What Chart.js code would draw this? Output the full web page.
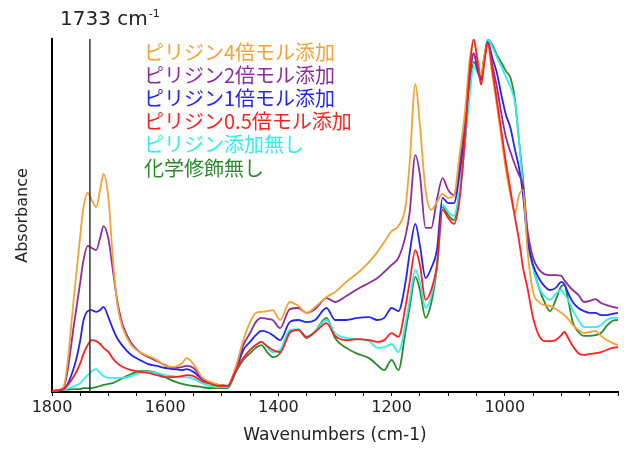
<!DOCTYPE html>
<html>
<head>
<meta charset="utf-8">
<script src="https://cdn.jsdelivr.net/npm/chart.js@4"></script>
<style>
    html, body { margin: 0; padding: 0; background: #fff; }
    #wrap { width: 624px; height: 450px; }
</style>
</head>
<body>
<div id="wrap"><canvas id="irChart" width="624" height="450"></canvas></div>
<script>
// ================= DATA =================
const wavenumbers = [
    1800, 1780, 1760, 1750, 1745, 1737, 1730, 1722, 1715, 1709,
    1700, 1693, 1685, 1675, 1660, 1645, 1630, 1615, 1600, 1585,
    1570, 1562, 1550, 1535, 1520, 1505, 1490, 1475, 1462, 1450,
    1440, 1430, 1420, 1410, 1397, 1380, 1365, 1350, 1335, 1315,
    1300, 1280, 1260, 1240, 1225, 1213, 1200, 1188, 1175, 1168,
    1158, 1150, 1140, 1130, 1120, 1110, 1100, 1090, 1080, 1070,
    1062, 1055, 1048, 1042, 1036, 1030, 1022, 1014, 1005, 998,
    990, 982, 975, 968, 960, 950, 940, 930, 920, 910,
    900, 895, 888, 880, 870, 860, 850, 840, 830, 820,
    810, 800
];

const pyridine4 = [
    0.3, 1.4, 28.9, 44.5, 51.6, 56.4, 54.4, 52.4, 57.2, 61.8,
    54.4, 38.8, 25.2, 18.1, 13.3, 11.3, 10.2, 9.1, 7.4, 7.1,
    8.2, 9.6, 7.9, 4.2, 2.8, 2.0, 1.7, 7.4, 14.7, 19.8,
    22.4, 22.7, 22.9, 23.2, 20.4, 25.5, 24.4, 22.4, 24.1, 26.9,
    28.3, 31.2, 33.7, 36.8, 39.7, 42.5, 45.6, 47.0, 53.0, 65.2,
    87.3, 75.6, 57.2, 51.6, 53.8, 56.1, 55.0, 55.5, 67.1, 79.9,
    94.1, 99.7, 94.1, 89.8, 95.5, 98.3, 89.8, 81.3, 70.8, 62.9,
    55.8, 50.7, 55.8, 57.2, 40.2, 28.3, 25.5, 24.6, 24.4, 23.5,
    22.4, 21.8, 20.7, 19.0, 17.6, 16.7, 17.0, 17.3, 15.9, 14.7,
    13.9, 13.3
];

const pyridine2 = [
    0.3, 1.1, 20.4, 31.2, 36.8, 41.4, 40.8, 40.2, 43.6, 47.0,
    43.1, 35.1, 26.1, 19.0, 13.9, 11.3, 9.9, 8.8, 7.6, 6.8,
    7.1, 7.4, 6.8, 4.0, 2.5, 2.0, 1.7, 6.8, 13.3, 16.7,
    19.8, 21.0, 20.7, 20.4, 18.1, 23.5, 23.8, 22.4, 23.5, 26.6,
    25.5, 27.2, 29.2, 30.9, 32.3, 34.0, 36.0, 38.0, 44.5, 51.0,
    67.1, 61.5, 46.5, 46.5, 54.4, 60.6, 57.2, 55.8, 64.3, 77.1,
    89.8, 95.8, 92.1, 89.2, 94.9, 98.6, 92.6, 86.4, 77.9, 72.2,
    68.0, 64.3, 61.5, 58.6, 45.9, 38.0, 34.8, 33.4, 33.1, 33.1,
    32.9, 31.7, 30.3, 28.9, 27.5, 25.5, 25.8, 26.3, 25.2, 24.6,
    24.1, 23.8
];

const pyridine1 = [
    0.3, 0.8, 7.6, 14.7, 19.8, 22.9, 23.2, 22.7, 23.2, 24.1,
    21.0, 18.1, 15.3, 13.0, 10.5, 9.1, 7.9, 7.4, 6.8, 6.5,
    6.2, 6.5, 5.7, 3.7, 2.5, 2.0, 1.7, 6.2, 11.9, 14.2,
    16.1, 17.3, 17.0, 16.1, 14.7, 19.8, 20.4, 19.8, 20.4, 23.8,
    20.4, 20.4, 21.0, 21.2, 20.4, 21.0, 23.8, 22.9, 31.5, 39.5,
    47.6, 41.6, 32.3, 35.1, 40.2, 55.0, 53.5, 53.5, 61.8, 75.6,
    89.8, 96.0, 91.2, 88.4, 94.9, 99.2, 94.6, 90.4, 83.3, 78.5,
    74.8, 68.6, 63.7, 56.1, 43.1, 36.0, 32.3, 30.0, 28.9, 29.5,
    31.2, 30.6, 28.0, 25.5, 23.8, 22.9, 22.4, 22.4, 21.8, 21.8,
    22.1, 22.4
];

const pyridine05 = [
    0.3, 0.8, 4.8, 8.2, 10.5, 13.3, 14.7, 14.4, 13.6, 12.5,
    11.3, 9.6, 8.2, 7.1, 6.2, 5.7, 5.4, 4.8, 4.2, 4.2,
    4.5, 4.8, 4.5, 3.1, 2.3, 1.7, 1.7, 6.2, 9.6, 11.9,
    13.3, 14.2, 13.0, 11.9, 11.3, 16.7, 17.6, 15.6, 17.0, 19.5,
    15.9, 14.7, 15.0, 14.7, 14.2, 14.7, 16.7, 15.6, 24.6, 31.2,
    40.2, 36.0, 26.1, 28.9, 35.7, 51.6, 49.3, 47.6, 54.4, 72.8,
    91.2, 100, 93.5, 87.0, 93.5, 98.9, 91.2, 82.7, 72.8, 64.9,
    57.2, 49.3, 43.1, 35.4, 29.5, 21.0, 16.1, 14.4, 14.4, 14.7,
    16.1, 17.0, 15.3, 13.0, 11.0, 10.5, 10.8, 11.0, 11.3, 11.9,
    12.5, 12.7
];

const pyridine0 = [
    0.3, 0.6, 1.7, 2.5, 3.4, 4.8, 5.9, 6.5, 5.4, 4.5,
    4.0, 4.0, 4.0, 4.0, 4.5, 5.4, 5.7, 5.4, 4.8, 4.5,
    4.2, 4.2, 3.7, 2.5, 1.7, 1.4, 1.4, 6.2, 9.6, 11.9,
    13.3, 14.2, 12.7, 11.3, 11.9, 17.6, 17.8, 15.6, 17.3, 20.4,
    16.7, 15.3, 15.0, 14.4, 12.5, 12.7, 13.6, 11.3, 19.8, 26.1,
    34.6, 31.2, 23.8, 27.2, 35.7, 53.0, 51.0, 49.9, 57.2, 71.4,
    84.1, 92.1, 90.4, 88.4, 94.6, 100, 97.7, 94.9, 91.8, 89.2,
    86.4, 81.9, 71.4, 58.6, 43.1, 35.1, 29.7, 27.2, 26.1, 27.8,
    28.9, 27.8, 26.1, 23.2, 20.4, 18.4, 18.4, 18.4, 19.0, 20.4,
    21.0, 21.0
];

const unmodified = [
    0.3, 0.6, 0.8, 0.8, 1.1, 1.1, 1.1, 1.4, 1.7, 2.0,
    2.3, 2.5, 3.1, 4.0, 5.1, 5.9, 5.9, 5.4, 4.2, 3.1,
    2.3, 2.0, 1.7, 1.4, 1.1, 1.1, 1.1, 5.7, 9.1, 11.0,
    12.5, 13.3, 11.3, 9.9, 11.0, 17.3, 17.6, 15.3, 17.3, 21.0,
    15.3, 12.5, 10.8, 9.6, 7.6, 6.2, 9.1, 6.2, 17.6, 24.1,
    32.6, 28.9, 21.0, 25.2, 35.1, 52.4, 50.1, 48.7, 55.8, 71.4,
    85.5, 93.5, 91.2, 89.0, 94.6, 100, 98.3, 95.5, 93.0, 90.9,
    89.0, 82.7, 71.4, 60.6, 44.5, 35.4, 29.7, 25.5, 22.9, 26.1,
    30.0, 30.3, 26.1, 19.8, 17.0, 15.9, 15.9, 16.1, 16.7, 18.7,
    20.1, 20.4
];

const seriesLabels = [
    "ピリジン4倍モル添加",
    "ピリジン2倍モル添加",
    "ピリジン1倍モル添加",
    "ピリジン0.5倍モル添加",
    "ピリジン添加無し",
    "化学修飾無し"
];
const seriesColors = ["#f4a234", "#8e2c9e", "#2424f0", "#ff1f1f", "#2ef0ee", "#2b8a2b"];
const seriesOrder = [1, 2, 3, 0, 4, 5];

const xTickLabels = [1800, 1600, 1400, 1200, 1000];
const markerWavenumber = 1733;
const markerLabel = "1733 cm";

// ================= HELPERS =================
function toPoints(values) {
    return wavenumbers.map((w, i) => ({ x: w, y: values[i] }));
}

// vertical marker line, its label and the coloured text legend
const overlayPlugin = {
    id: "overlay",
    afterDatasetsDraw(chart) {
        const ctx = chart.ctx;
        const area = chart.chartArea;
        const x = chart.scales.x.getPixelForValue(markerWavenumber);

        ctx.save();
        ctx.strokeStyle = "#333";
        ctx.lineWidth = 1.5;
        ctx.beginPath();
        ctx.moveTo(x, area.top);
        ctx.lineTo(x, area.bottom);
        ctx.stroke();

        ctx.fillStyle = "#222";
        ctx.textBaseline = "alphabetic";
        ctx.font = "20px 'DejaVu Sans'";
        ctx.fillText(markerLabel, 60, 25);
        const w = ctx.measureText(markerLabel).width;
        ctx.font = "11px 'DejaVu Sans'";
        ctx.fillText("-1", 60 + w + 1, 17);

        ctx.font = "20px 'Noto Sans CJK JP'";
        ctx.textBaseline = "middle";
        seriesLabels.forEach((t, i) => {
            ctx.fillStyle = seriesColors[i];
            ctx.fillText(t, 144, 52 + i * 23.2);
        });
        ctx.restore();
    }
};

// ================= CHART =================
const allSeries = [pyridine4, pyridine2, pyridine1, pyridine05, pyridine0, unmodified];

new Chart(document.getElementById("irChart"), {
    type: "line",
    data: {
        datasets: allSeries.map((values, i) => ({
            label: seriesLabels[i],
            data: toPoints(values),
            borderColor: seriesColors[i],
            borderWidth: 1.8,
            pointRadius: 0,
            fill: false,
            cubicInterpolationMode: "monotone",
            order: seriesOrder[i]
        }))
    },
    options: {
        responsive: false,
        animation: false,
        layout: { padding: { top: 39, right: 6, left: 0, bottom: 0 } },
        plugins: {
            legend: { display: false },
            tooltip: { enabled: false }
        },
        scales: {
            x: {
                type: "linear",
                reverse: true,
                min: 800,
                max: 1800,
                afterFit: (scale) => { scale.height = 58; },
                border: { color: "#000", width: 2 },
                grid: { drawOnChartArea: false, tickLength: 4, color: "#000" },
                ticks: {
                    stepSize: 50,
                    autoSkip: false,
                    maxRotation: 0,
                    padding: 2,
                    color: "#222",
                    font: { family: "DejaVu Sans", size: 16 },
                    callback: (v) => xTickLabels.includes(v) ? String(v) : ""
                },
                title: {
                    display: true,
                    text: "Wavenumbers (cm-1)",
                    color: "#222",
                    font: { family: "DejaVu Sans", size: 17 },
                    padding: { top: 0, bottom: 4 }
                }
            },
            y: {
                min: 0,
                max: 100,
                afterFit: (scale) => { scale.width = 52; },
                border: { color: "#000", width: 2 },
                grid: { display: false },
                ticks: { display: false },
                title: {
                    display: true,
                    text: "Absorbance",
                    color: "#222",
                    font: { family: "DejaVu Sans", size: 16 },
                    padding: { top: 13, bottom: 0 }
                }
            }
        }
    },
    plugins: [overlayPlugin]
});
</script>
</body>
</html>
